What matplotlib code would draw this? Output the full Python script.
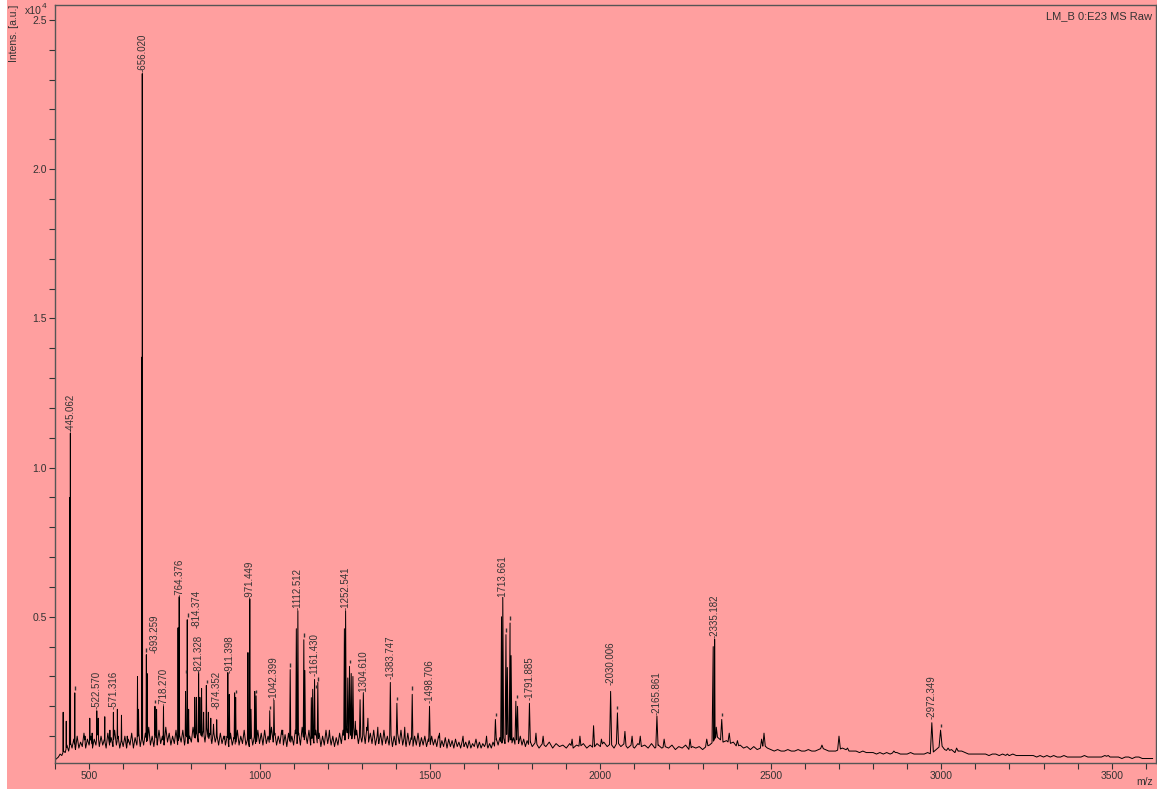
import numpy as np
import matplotlib
matplotlib.use("Agg")
import matplotlib.pyplot as plt
from matplotlib.ticker import MultipleLocator
from matplotlib.patches import Rectangle

# noise floor of the spectrum (x10^4 a.u.): every 5 m/z up to 1800, then every 10
floor_mz_low = np.arange(400, 1800, 5)
floor_int_low = [
    0.02, 0.025, 0.03, 0.04, 0.035, 0.05, 0.045, 0.07, 0.05, 0.08,
    0.06, 0.09, 0.055, 0.10, 0.06, 0.08, 0.065, 0.11, 0.06, 0.09,      # 400
    0.07, 0.10, 0.06, 0.09, 0.07, 0.12, 0.065, 0.10, 0.07, 0.09,
    0.06, 0.11, 0.07, 0.095, 0.065, 0.12, 0.07, 0.10, 0.06, 0.09,      # 500
    0.065, 0.10, 0.06, 0.09, 0.07, 0.11, 0.06, 0.095, 0.07, 0.12,
    0.065, 0.10, 0.07, 0.11, 0.075, 0.13, 0.07, 0.10, 0.065, 0.11,     # 600
    0.07, 0.12, 0.075, 0.10, 0.07, 0.13, 0.08, 0.11, 0.07, 0.10,
    0.075, 0.12, 0.07, 0.105, 0.08, 0.12, 0.07, 0.11, 0.075, 0.10,     # 700
    0.08, 0.13, 0.085, 0.12, 0.08, 0.14, 0.09, 0.12, 0.08, 0.13,
    0.085, 0.11, 0.075, 0.12, 0.08, 0.105, 0.07, 0.11, 0.075, 0.10,    # 800
    0.07, 0.10, 0.065, 0.11, 0.07, 0.095, 0.065, 0.12, 0.07, 0.10,
    0.075, 0.12, 0.07, 0.09, 0.065, 0.11, 0.07, 0.10, 0.065, 0.12,     # 900
    0.075, 0.11, 0.07, 0.12, 0.075, 0.10, 0.07, 0.13, 0.08, 0.11,
    0.07, 0.10, 0.075, 0.12, 0.07, 0.105, 0.065, 0.11, 0.07, 0.10,     # 1000
    0.07, 0.12, 0.075, 0.11, 0.07, 0.13, 0.08, 0.11, 0.075, 0.12,
    0.07, 0.10, 0.075, 0.12, 0.07, 0.11, 0.065, 0.10, 0.07, 0.12,      # 1100
    0.075, 0.11, 0.07, 0.10, 0.065, 0.095, 0.07, 0.11, 0.075, 0.12,
    0.08, 0.13, 0.085, 0.12, 0.08, 0.14, 0.08, 0.12, 0.075, 0.11,      # 1200
    0.08, 0.12, 0.075, 0.13, 0.08, 0.11, 0.075, 0.12, 0.07, 0.10,
    0.075, 0.11, 0.07, 0.12, 0.075, 0.10, 0.07, 0.11, 0.065, 0.10,     # 1300
    0.07, 0.11, 0.075, 0.12, 0.07, 0.10, 0.065, 0.11, 0.07, 0.095,
    0.065, 0.10, 0.07, 0.11, 0.065, 0.095, 0.07, 0.10, 0.065, 0.09,    # 1400
    0.065, 0.10, 0.07, 0.09, 0.065, 0.10, 0.06, 0.085, 0.065, 0.095,
    0.06, 0.09, 0.065, 0.085, 0.06, 0.09, 0.065, 0.08, 0.06, 0.085,    # 1500
    0.065, 0.08, 0.06, 0.085, 0.06, 0.075, 0.065, 0.09, 0.06, 0.08,
    0.06, 0.075, 0.065, 0.08, 0.06, 0.075, 0.06, 0.08, 0.065, 0.09,    # 1600
    0.07, 0.095, 0.07, 0.10, 0.075, 0.11, 0.08, 0.10, 0.075, 0.095,
    0.07, 0.09, 0.075, 0.10, 0.07, 0.09, 0.065, 0.085, 0.07, 0.08,     # 1700
]
floor_mz_high = np.arange(1800, 3630, 10)
floor_int_high = [
    0.065, 0.08, 0.06, 0.075, 0.065, 0.08, 0.06, 0.075, 0.065, 0.07,   # 1800
    0.06, 0.075, 0.06, 0.07, 0.065, 0.075, 0.06, 0.07, 0.06, 0.075,    # 1900
    0.065, 0.08, 0.065, 0.075, 0.06, 0.08, 0.065, 0.075, 0.06, 0.07,   # 2000
    0.06, 0.075, 0.065, 0.07, 0.06, 0.075, 0.06, 0.07, 0.06, 0.065,    # 2100
    0.06, 0.07, 0.055, 0.065, 0.06, 0.07, 0.055, 0.065, 0.06, 0.065,   # 2200
    0.055, 0.065, 0.07, 0.08, 0.10, 0.09, 0.08, 0.085, 0.075, 0.08,    # 2300
    0.065, 0.07, 0.06, 0.065, 0.055, 0.065, 0.055, 0.06, 0.07, 0.06,   # 2400
    0.055, 0.05, 0.055, 0.05, 0.05, 0.055, 0.05, 0.05, 0.055, 0.05,    # 2500
    0.05, 0.055, 0.05, 0.05, 0.055, 0.06, 0.055, 0.05, 0.05, 0.05,     # 2600
    0.055, 0.06, 0.055, 0.05, 0.05, 0.05, 0.045, 0.05, 0.045, 0.045,   # 2700
    0.045, 0.04, 0.045, 0.04, 0.045, 0.04, 0.045, 0.045, 0.04, 0.04,   # 2800
    0.04, 0.045, 0.04, 0.04, 0.04, 0.04, 0.045, 0.04, 0.05, 0.06,      # 2900
    0.07, 0.055, 0.05, 0.055, 0.045, 0.05, 0.05, 0.045, 0.04, 0.04,    # 3000
    0.04, 0.04, 0.04, 0.04, 0.035, 0.04, 0.04, 0.035, 0.04, 0.035,     # 3100
    0.035, 0.04, 0.035, 0.035, 0.035, 0.035, 0.035, 0.035, 0.03, 0.035,  # 3200
    0.03, 0.035, 0.03, 0.035, 0.03, 0.03, 0.035, 0.03, 0.03, 0.03,     # 3300
    0.03, 0.03, 0.035, 0.03, 0.03, 0.03, 0.03, 0.03, 0.035, 0.03,      # 3400
    0.03, 0.03, 0.03, 0.025, 0.03, 0.03, 0.025, 0.03, 0.03, 0.025,     # 3500
    0.025, 0.025, 0.025,                                               # 3600
]

# peaks (m/z, intensity x10^4)
peak_mz = [424, 433, 443, 445.062, 458, 488, 502, 509, 522.57, 527,
           546, 561, 571.316, 583, 595, 612, 642, 645, 654.9, 656.02,
           668, 670, 693.259, 698, 718.27, 753, 761, 764.376, 783, 788,
           792, 810, 815, 821.328, 825, 830, 836, 844, 850, 857,
           865, 874.352, 898, 907, 911.398, 927, 930, 966, 971.449, 975,
           986, 990, 1030, 1042.399, 1068, 1090, 1108, 1112.512, 1130, 1133,
           1152, 1156, 1161.43, 1171, 1205, 1249, 1252.541, 1259, 1264, 1269,
           1274, 1281, 1295, 1304.61, 1318, 1347, 1383.747, 1403, 1426, 1448,
           1498.706, 1528, 1597, 1666, 1692, 1710, 1713.661, 1723, 1727, 1735,
           1738, 1752, 1757, 1791.885, 1811, 1832, 1917, 1940, 1980, 2003,
           2030.006, 2050, 2072, 2093, 2117, 2165.861, 2187, 2263, 2312, 2331,
           2335.182, 2340, 2356, 2378, 2402, 2473, 2480, 2650, 2700, 2725,
           2861, 2972.349, 2998, 3020, 3045, 3194, 3490]
peak_int = [0.18, 0.15, 0.90, 1.115, 0.245, 0.10, 0.16, 0.11, 0.185, 0.16,
            0.165, 0.12, 0.18, 0.19, 0.17, 0.10, 0.30, 0.19, 1.37, 2.32,
            0.373, 0.31, 0.20, 0.19, 0.20, 0.10, 0.463, 0.567, 0.25, 0.49,
            0.19, 0.23, 0.23, 0.313, 0.23, 0.26, 0.18, 0.27, 0.18, 0.16,
            0.14, 0.155, 0.10, 0.313, 0.24, 0.245, 0.23, 0.38, 0.56, 0.19,
            0.25, 0.235, 0.185, 0.22, 0.12, 0.323, 0.46, 0.52, 0.423, 0.32,
            0.229, 0.257, 0.29, 0.28, 0.12, 0.46, 0.52, 0.295, 0.334, 0.31,
            0.30, 0.15, 0.222, 0.245, 0.16, 0.13, 0.28, 0.21, 0.13, 0.24,
            0.20, 0.11, 0.10, 0.10, 0.156, 0.50, 0.565, 0.44, 0.33, 0.479,
            0.37, 0.217, 0.20, 0.21, 0.11, 0.10, 0.09, 0.10, 0.135, 0.09,
            0.25, 0.178, 0.116, 0.10, 0.10, 0.167, 0.09, 0.09, 0.09, 0.40,
            0.425, 0.13, 0.156, 0.11, 0.085, 0.09, 0.11, 0.07, 0.10, 0.06,
            0.05, 0.145, 0.12, 0.06, 0.06, 0.04, 0.035]

# peak labels and the height where each one starts
label_text = ["445.062", "522.570", "571.316", "656.020", "693.259", "718.270",
              "764.376", "814.374", "821.328", "874.352", "911.398", "971.449",
              "1042.399", "1112.512", "1161.430", "1252.541", "1304.610",
              "1383.747", "1498.706", "1713.661", "1791.885", "2030.006",
              "2165.861", "2335.182", "2972.349"]
label_y = [1.12, 0.19, 0.19, 2.325, 0.38, 0.20,
           0.567, 0.463, 0.31, 0.19, 0.31, 0.56,
           0.22, 0.523, 0.30, 0.523, 0.24,
           0.29, 0.21, 0.56, 0.22, 0.27,
           0.17, 0.43, 0.156]

# small marks above unlabelled picked peaks
mark_mz = [458, 668, 693, 784, 790, 845, 932, 989, 1030, 1089, 1131, 1167,
           1172, 1264, 1403, 1448, 1693, 1722, 1736, 1754, 2050, 2356, 2998]
mark_y = [0.255, 0.383, 0.21, 0.31, 0.50, 0.277, 0.243, 0.243, 0.19, 0.333,
          0.433, 0.26, 0.286, 0.344, 0.22, 0.255, 0.166, 0.45, 0.49, 0.227,
          0.19, 0.166, 0.13]

pink = "#ff9f9f"
grey = "#333333"
plt.rcParams["font.family"] = ["Liberation Sans", "DejaVu Sans"]

fig = plt.figure(figsize=(11.57, 7.89), dpi=100, facecolor=pink)
fig.patches.append(Rectangle((0, 0), 7 / 1157, 1, transform=fig.transFigure,
                             facecolor="white", edgecolor="none", zorder=-1))
ax = fig.add_axes([55 / 1157, 26 / 789, 1101 / 1157, 758 / 789])
ax.set_facecolor(pink)

# build the trace: floor plus narrow triangular peaks
fl_mz = np.concatenate([floor_mz_low, floor_mz_high]).astype(float)
fl_y = np.asarray(floor_int_low + floor_int_high, float)
pk_mz = np.asarray(peak_mz, float)
pk_y = np.asarray(peak_int, float)
half = pk_mz * 0.0015
keep = np.ones(len(fl_mz), bool)
for m, w in zip(pk_mz, half):
    keep &= ~((fl_mz > m - w) & (fl_mz < m + w))
xs = list(fl_mz[keep])
ys = list(fl_y[keep])
for m, h, w in zip(pk_mz, pk_y, half):
    for px, py in ((m - w, None), (m, h), (m + w, None)):
        xs.append(px)
        ys.append(np.interp(px, fl_mz, fl_y) if py is None else py)
order = np.argsort(xs)
ax.plot(np.asarray(xs)[order], np.asarray(ys)[order], color="black", lw=0.7)

ax.vlines(mark_mz, mark_y, np.asarray(mark_y) + 0.012, color=grey, lw=1.0)

for t, y in zip(label_text, label_y):
    ax.text(float(t), y, "-" + t, rotation=90, ha="center", va="bottom",
            fontsize=7, color=grey)

ax.set_xlim(400, 3630)
ax.set_ylim(0.01, 2.55)
ax.xaxis.set_major_locator(MultipleLocator(500))
ax.xaxis.set_minor_locator(MultipleLocator(100))
ax.yaxis.set_major_locator(MultipleLocator(0.5))
ax.yaxis.set_minor_locator(MultipleLocator(0.1))
ax.yaxis.set_major_formatter(plt.FuncFormatter(lambda v, p: f"{v:.1f}"))
ax.tick_params(which="both", direction="out", length=4, width=0.8,
               color=grey, labelcolor=grey, labelsize=7.5, pad=2)
for s in ax.spines.values():
    s.set_color("#555555")
    s.set_linewidth(1.0)

fig.text(1152 / 1157, 1 - 16 / 789, "LM_B 0:E23 MS Raw", ha="right",
         va="center", fontsize=8, color=grey)
fig.text(1153 / 1157, 1 - 782 / 789, "m/z", ha="right", va="center",
         fontsize=7.5, color=grey)
fig.text(14 / 1157, 1 - 5 / 789, "Intens. [a.u.]", rotation=90, ha="center",
         va="top", fontsize=7.5, color=grey)
fig.text(42 / 1157, 1 - 11 / 789, "x10", ha="right", va="center",
         fontsize=7.5, color=grey)
fig.text(42 / 1157, 1 - 7 / 789, "4", ha="left", va="center",
         fontsize=6, color=grey)

fig.savefig("out.png", dpi=100, facecolor=pink)
